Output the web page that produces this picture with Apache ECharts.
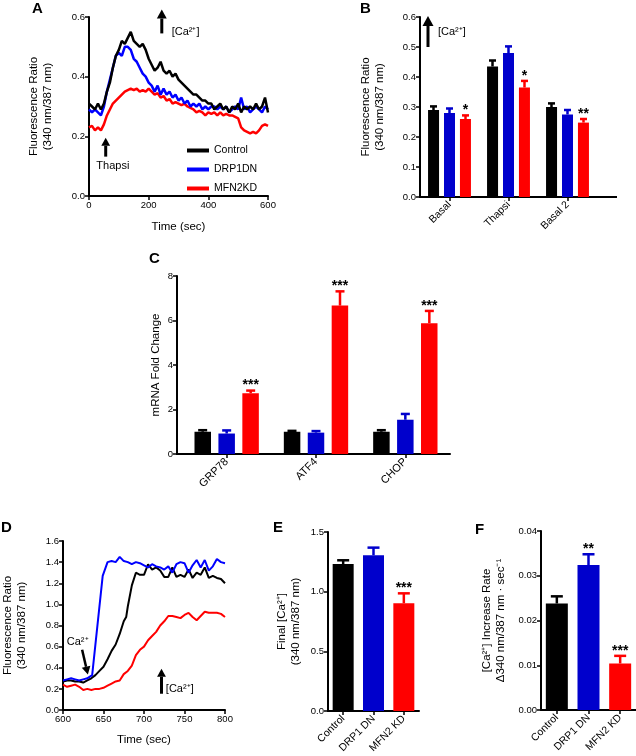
<!DOCTYPE html>
<html><head><meta charset="utf-8">
<script src="https://cdn.jsdelivr.net/npm/echarts@6/dist/echarts.min.js"></script>
<style>html,body{margin:0;padding:0;background:#fff}#c{width:636px;height:756px}</style>
</head><body><div id="c"></div>
<script>
const FONT = '"Liberation Sans", Arial, Helvetica, sans-serif';
const BLACK = '#000000', BLUE = '#0000ff', BARBLUE = '#0000cc', RED = '#ff0000';

// ---------- Panel A: time course (sec) ----------
const aTime = [0,10,20,30,40,50,60,70,80,90,100,110,120,130,140,150,160,170,180,190,200,210,220,230,240,250,260,270,280,290,300,310,320,330,340,350,360,370,380,390,400,410,420,430,440,450,460,470,480,490,500,510,520,530,540,550,560,570,580,590,600];
const aControl = [0.31,0.30,0.29,0.31,0.29,0.31,0.35,0.38,0.43,0.47,0.49,0.52,0.51,0.53,0.55,0.52,0.51,0.50,0.51,0.49,0.46,0.44,0.42,0.43,0.45,0.42,0.41,0.42,0.40,0.41,0.39,0.38,0.37,0.36,0.35,0.34,0.34,0.33,0.32,0.32,0.31,0.31,0.29,0.30,0.31,0.29,0.30,0.28,0.30,0.29,0.31,0.28,0.30,0.29,0.30,0.29,0.31,0.29,0.30,0.33,0.28];
const aDRP1DN = [0.29,0.28,0.29,0.28,0.27,0.30,0.35,0.39,0.43,0.47,0.48,0.47,0.50,0.50,0.49,0.46,0.45,0.43,0.41,0.40,0.38,0.37,0.35,0.37,0.34,0.36,0.34,0.35,0.33,0.34,0.32,0.33,0.31,0.32,0.30,0.31,0.30,0.31,0.29,0.30,0.29,0.30,0.30,0.29,0.30,0.29,0.30,0.28,0.29,0.30,0.29,0.33,0.29,0.30,0.28,0.29,0.30,0.29,0.28,0.30,0.29];
const aMFN2KD = [0.23,0.235,0.22,0.23,0.22,0.24,0.27,0.29,0.31,0.32,0.33,0.34,0.35,0.355,0.36,0.355,0.36,0.35,0.355,0.35,0.36,0.35,0.34,0.345,0.33,0.335,0.32,0.325,0.31,0.315,0.31,0.305,0.31,0.30,0.295,0.29,0.28,0.285,0.28,0.27,0.28,0.275,0.28,0.27,0.28,0.27,0.275,0.27,0.27,0.265,0.26,0.23,0.22,0.215,0.21,0.215,0.21,0.22,0.235,0.24,0.235];
const aYTicks = [0, 0.6, 0.2];      // min, max, interval
const aXTicks = [0, 600, 200];

// ---------- Panel B: grouped bars ----------
const bCats = ['Basal', 'Thapsi', 'Basal 2'];
const bControl = [0.29, 0.435, 0.30];
const bControlErr = [0.012, 0.02, 0.012];
const bDRP1 = [0.28, 0.48, 0.275];
const bDRP1Err = [0.015, 0.022, 0.015];
const bMFN2 = [0.26, 0.365, 0.248];
const bMFN2Err = [0.012, 0.022, 0.012];
const bMFN2Stars = ['*', '*', '**'];

// ---------- Panel C: mRNA fold change ----------
const cCats = ['GRP78', 'ATF4', 'CHOP'];
const cControl = [1.0, 1.0, 1.0];
const cControlErr = [0.07, 0.04, 0.07];
const cDRP1 = [0.92, 0.96, 1.54];
const cDRP1Err = [0.14, 0.07, 0.26];
const cMFN2 = [2.73, 6.67, 5.88];
const cMFN2Err = [0.12, 0.64, 0.55];
const cMFN2Stars = ['***', '***', '***'];

// ---------- Panel D: Ca2+ add-back time course ----------
const dTimeControl = [600,605,610,615,620,625,630,635,640,645,650,655,660,665,670,675,678,680,685,690,695,700,705,710,715,720,725,730,735,740,745,750,755,760,765,770,775,780,785,790,795,800];
const dControl = [0.27,0.28,0.28,0.27,0.27,0.26,0.28,0.30,0.33,0.37,0.41,0.48,0.56,0.62,0.72,0.84,0.88,0.98,1.18,1.30,1.28,1.28,1.38,1.33,1.35,1.32,1.26,1.26,1.35,1.26,1.28,1.26,1.33,1.25,1.30,1.28,1.35,1.25,1.27,1.25,1.24,1.20];
const dTimeDRP1 = [600,605,610,615,620,625,630,636,649,655,660,665,670,675,680,685,690,695,700,705,710,715,720,725,730,735,740,745,750,755,760,765,770,775,780,785,790,795,800];
const dDRP1 = [0.28,0.29,0.30,0.29,0.28,0.29,0.30,0.33,1.27,1.40,1.41,1.40,1.45,1.41,1.40,1.38,1.40,1.39,1.37,1.35,1.38,1.36,1.35,1.33,1.36,1.30,1.38,1.40,1.39,1.30,1.37,1.42,1.35,1.42,1.32,1.36,1.43,1.40,1.39];
const dTimeMFN2 = [600,605,610,615,620,625,630,635,640,645,650,655,660,665,670,675,680,685,690,695,700,705,710,715,720,725,730,735,740,745,750,755,760,765,770,775,780,785,790,795,800];
const dMFN2 = [0.24,0.22,0.23,0.24,0.22,0.19,0.20,0.19,0.20,0.20,0.21,0.23,0.25,0.27,0.28,0.34,0.37,0.42,0.52,0.57,0.60,0.66,0.70,0.74,0.80,0.84,0.89,0.89,0.88,0.87,0.90,0.92,0.88,0.85,0.89,0.93,0.92,0.92,0.92,0.91,0.88];

// ---------- Panel E: final [Ca2+] ----------
const eCats = ['Control', 'DRP1 DN', 'MFN2 KD'];
const eVals = [1.232, 1.305, 0.903];
const eErrs = [0.031, 0.064, 0.083];
const eStars = ['', '', '***'];

// ---------- Panel F: increase rate ----------
const fCats = ['Control', 'DRP1 DN', 'MFN2 KD'];
const fVals = [0.0238, 0.0324, 0.0104];
const fErrs = [0.0016, 0.0024, 0.0017];
const fStars = ['', '**', '***'];

const chart = echarts.init(document.getElementById('c'), null, {renderer: 'canvas'});

function valAxis(g, min, max, interval, dec, name, nameGap, extra) {
  return Object.assign({
    type: 'value', gridIndex: g, min: min, max: max, interval: interval,
    axisLine: {show: true, onZero: false, lineStyle: {color: '#000', width: 2}},
    axisTick: {show: true, length: 4, lineStyle: {color: '#000', width: 1.5}},
    splitLine: {show: false},
    axisLabel: {color: '#000', fontSize: 9.5, fontFamily: FONT, margin: 4,
      formatter: function (v) { return v.toFixed(dec); }},
    name: name, nameLocation: 'middle', nameGap: nameGap,
    nameTextStyle: {color: '#000', fontSize: 11.5, fontFamily: FONT, lineHeight: 14}
  }, extra || {});
}
function catAxis(g, cats, fontSize) {
  return {
    type: 'category', gridIndex: g, data: cats,
    axisLine: {show: true, lineStyle: {color: '#000', width: 2}},
    axisTick: {show: true, alignWithLabel: true, length: 4, lineStyle: {color: '#000', width: 1.5}},
    axisLabel: {color: '#000', fontSize: fontSize, fontFamily: FONT, rotate: 45, margin: 6, interval: 0}
  };
}
function barSeries(name, g, vals, color, width, gap) {
  return {type: 'bar', name: name, xAxisIndex: g, yAxisIndex: g, data: vals,
    barWidth: width, barGap: gap, itemStyle: {color: color}, silent: true};
}
function errSeries(g, vals, errs, colors, offset, capW, stars) {
  return {
    type: 'custom', xAxisIndex: g, yAxisIndex: g, z: 3, silent: true,
    data: vals.map(function (v, i) { return [i, v, errs[i]]; }),
    renderItem: function (params, api) {
      const i = api.value(0), v = api.value(1), e = api.value(2);
      const p0 = api.coord([i, v]), p1 = api.coord([i, v + e]);
      const x = p0[0] + offset;
      const col = Array.isArray(colors) ? colors[i] : colors;
      const ch = [
        {type: 'line', shape: {x1: x, y1: p0[1], x2: x, y2: p1[1]}, style: {stroke: col, lineWidth: 2.5}},
        {type: 'line', shape: {x1: x - capW / 2, y1: p1[1], x2: x + capW / 2, y2: p1[1]}, style: {stroke: col, lineWidth: 2.5}}
      ];
      if (stars && stars[i]) {
        ch.push({type: 'text', x: x, y: p1[1] - 5, style: {text: stars[i], fill: '#000',
          font: 'bold 14px ' + FONT, align: 'center', verticalAlign: 'middle'}});
      }
      return {type: 'group', children: ch};
    }
  };
}
function lineSeries(name, g, xs, ys, color, w) {
  return {type: 'line', name: name, xAxisIndex: g, yAxisIndex: g,
    data: xs.map(function (x, i) { return [x, ys[i]]; }),
    showSymbol: false, symbol: 'none', lineStyle: {color: color, width: w}, itemStyle: {color: color}, silent: true};
}

const option = {
  animation: false,
  backgroundColor: '#fff',
  textStyle: {fontFamily: FONT},
  grid: [
    {left: 89, top: 17, width: 179, height: 179},     // A
    {left: 420, top: 17, width: 177, height: 180},    // B
    {left: 182, top: 276, width: 268, height: 178},   // C
    {left: 56, top: 541, width: 169, height: 169},    // D
    {left: 328, top: 532, width: 91, height: 179},    // E
    {left: 541, top: 531, width: 95, height: 179}     // F
  ],
  legend: {
    data: ['Control', 'DRP1DN', 'MFN2KD'], orient: 'vertical', left: 182, top: 140,
    icon: 'rect', itemWidth: 22, itemHeight: 4, itemGap: 8,
    textStyle: {color: '#000', fontSize: 10.5, fontFamily: FONT, padding: [0, 0, 0, 0]}
  },
  xAxis: [
    valAxis(0, aXTicks[0], aXTicks[1], aXTicks[2], 0, 'Time (sec)', 24),
    catAxis(1, bCats, 10.5),
    catAxis(2, cCats, 11),
    valAxis(3, 600, 800, 50, 0, 'Time (sec)', 23),
    catAxis(4, eCats, 10.5),
    catAxis(5, fCats, 10.5)
  ],
  yAxis: [
    valAxis(0, aYTicks[0], aYTicks[1], aYTicks[2], 1, 'Fluorescence Ratio\n(340 nm/387 nm)', 34),
    valAxis(1, 0, 0.6, 0.1, 1, 'Fluorescence Ratio\n(340 nm/387 nm)', 33),
    valAxis(2, 0, 8, 2, 0, 'mRNA Fold Change', 14, {offset: 5}),
    valAxis(3, 0, 1.6, 0.2, 1, 'Fluorescence Ratio\n(340 nm/387 nm)', 34),
    valAxis(4, 0, 1.5, 0.5, 1, 'Final [Ca²⁺]\n(340 nm/387 nm)', 25),
    valAxis(5, 0, 0.04, 0.01, 2, '[Ca²⁺] Increase Rate\nΔ340 nm/387 nm · sec⁻¹', 33)
  ],
  series: [
    lineSeries('MFN2KD', 0, aTime, aMFN2KD, RED, 2.5),
    lineSeries('DRP1DN', 0, aTime, aDRP1DN, BLUE, 2.5),
    lineSeries('Control', 0, aTime, aControl, BLACK, 2.5),

    barSeries('B Control', 1, bControl, BLACK, 11, '45%'),
    barSeries('B DRP1DN', 1, bDRP1, BARBLUE, 11, '45%'),
    barSeries('B MFN2KD', 1, bMFN2, RED, 11, '45%'),
    errSeries(1, bControl, bControlErr, BLACK, -16, 7, null),
    errSeries(1, bDRP1, bDRP1Err, BARBLUE, 0, 7, null),
    errSeries(1, bMFN2, bMFN2Err, RED, 16, 7, bMFN2Stars),

    barSeries('C Control', 2, cControl, BLACK, 16.5, '45%'),
    barSeries('C DRP1DN', 2, cDRP1, BARBLUE, 16.5, '45%'),
    barSeries('C MFN2KD', 2, cMFN2, RED, 16.5, '45%'),
    errSeries(2, cControl, cControlErr, BLACK, -24, 9, null),
    errSeries(2, cDRP1, cDRP1Err, BARBLUE, 0, 9, null),
    errSeries(2, cMFN2, cMFN2Err, RED, 24, 9, cMFN2Stars),

    lineSeries('D MFN2KD', 3, dTimeMFN2, dMFN2, RED, 2),
    lineSeries('D Control', 3, dTimeControl, dControl, BLACK, 2),
    lineSeries('D DRP1DN', 3, dTimeDRP1, dDRP1, BLUE, 2),

    {type: 'bar', name: 'E', xAxisIndex: 4, yAxisIndex: 4, barWidth: 21, silent: true,
      data: eVals.map(function (v, i) { return {value: v, itemStyle: {color: [BLACK, BARBLUE, RED][i]}}; })},
    errSeries(4, eVals, eErrs, [BLACK, BARBLUE, RED], 0, 12, eStars),

    {type: 'bar', name: 'F', xAxisIndex: 5, yAxisIndex: 5, barWidth: 22, silent: true,
      data: fVals.map(function (v, i) { return {value: v, itemStyle: {color: [BLACK, BARBLUE, RED][i]}}; })},
    errSeries(5, fVals, fErrs, [BLACK, BARBLUE, RED], 0, 12, fStars)
  ]
};
chart.setOption(option);

// ---------- annotations (placed from data coordinates) ----------
function P(g, pt) { return chart.convertToPixel({gridIndex: g}, pt); }
function arrow(from, to, w, head) {
  const dx = to[0] - from[0], dy = to[1] - from[1];
  const L = Math.sqrt(dx * dx + dy * dy), ux = dx / L, uy = dy / L;
  const bx = to[0] - ux * head, by = to[1] - uy * head;
  const nx = -uy, ny = ux, hw = head * 0.55;
  return [
    {type: 'line', shape: {x1: from[0], y1: from[1], x2: bx, y2: by}, style: {stroke: '#000', lineWidth: w}},
    {type: 'polygon', shape: {points: [[to[0], to[1]], [bx + nx * hw, by + ny * hw], [bx - nx * hw, by - ny * hw]]}, style: {fill: '#000'}}
  ];
}
function label(pt, text, align, size, bold) {
  return {type: 'text', x: pt[0], y: pt[1], style: {text: text, fill: '#000',
    font: (bold ? 'bold ' : '') + size + 'px ' + FONT, align: align, verticalAlign: 'middle'}};
}
const g = [];
// Panel A
Array.prototype.push.apply(g, arrow(P(0, [244, 0.545]), P(0, [244, 0.625]), 3, 9));
g.push(label(P(0, [277, 0.549]), '[Ca²⁺]', 'left', 11));
Array.prototype.push.apply(g, arrow(P(0, [56, 0.132]), P(0, [56, 0.195]), 3, 8));
g.push(label(P(0, [80, 0.10]), 'Thapsi', 'center', 11));
// Panel B
Array.prototype.push.apply(g, arrow([428, 47], [428, 16], 3, 10));
g.push(label([438, 32], '[Ca²⁺]', 'left', 11));
// Panel D
g.push(label(P(3, [604.7, 0.645]), 'Ca²⁺', 'left', 11));
Array.prototype.push.apply(g, arrow(P(3, [623.6, 0.57]), P(3, [630.7, 0.335]), 2.5, 8));
Array.prototype.push.apply(g, arrow(P(3, [721.6, 0.154]), P(3, [721.6, 0.39]), 3, 8));
g.push(label(P(3, [727, 0.20]), '[Ca²⁺]', 'left', 11));
// axis-line extensions (GraphPad style axes run past the last category)
const bZero = P(1, [2, 0]), cZero = P(2, [0, 0]);
g.push({type: 'line', shape: {x1: 596, y1: bZero[1], x2: 617, y2: bZero[1]}, style: {stroke: '#000', lineWidth: 2}});
g.push({type: 'line', shape: {x1: 176, y1: cZero[1], x2: 183, y2: cZero[1]}, style: {stroke: '#000', lineWidth: 2}});
// panel letters
[['A', 32, 9], ['B', 360, 9], ['C', 149, 259], ['D', 1, 528], ['E', 273, 528], ['F', 475, 530]].forEach(function (l) {
  g.push(label([l[1], l[2]], l[0], 'left', 15, true));
});
chart.setOption({graphic: g});
</script></body></html>
